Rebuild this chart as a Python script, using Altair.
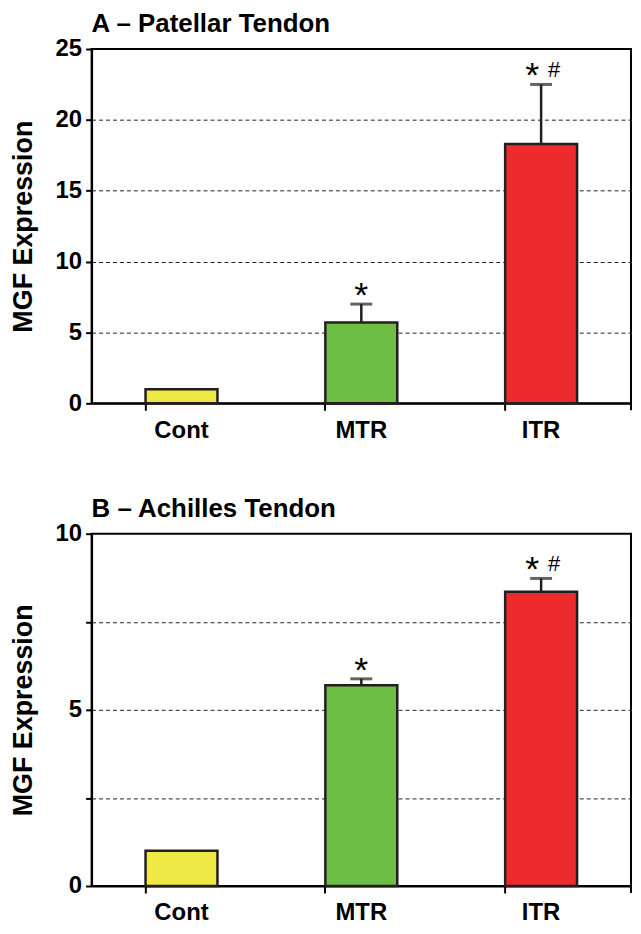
import altair as alt
import pandas as pd

cats = ["Cont", "MTR", "ITR"]
colors = ["#EFE946", "#6DBE45", "#ED2A2D"]
a_vals = [1.0, 5.7, 18.3]
a_err = [1.0, 7.0, 22.5]
b_vals = [1.0, 5.7, 8.35]
b_err = [1.0, 5.88, 8.73]
stars = ["", "*", "*"]
hashes = ["", "", "#"]

FONT = "Liberation Sans"
W = 542


def panel(title, vals, errs, ymax, ticks, grid_vals, label_vals, H):
    df = pd.DataFrame({"cat": cats, "val": vals, "err": errs,
                       "star": stars, "hash": hashes, "color": colors})
    x = alt.X("cat:N", sort=cats, title=None,
              scale=alt.Scale(paddingInner=0.6, paddingOuter=0.3),
              axis=alt.Axis(bandPosition=0, labelAngle=0, labelFont=FONT,
                            labelFontSize=24, labelFontWeight="bold",
                            labelColor="black", labelPadding=8,
                            tickColor="black", tickWidth=2, tickSize=7,
                            domainColor="black", domainWidth=2))
    label_test = " || ".join(f"datum.value == {v}" for v in label_vals)
    grid_test = " || ".join(f"datum.value == {v}" for v in grid_vals)
    y = alt.Y("val:Q", title="MGF Expression",
              scale=alt.Scale(domain=[0, ymax], nice=False),
              axis=alt.Axis(values=ticks, labelFont=FONT, labelFontSize=24,
                            labelFontWeight="bold", labelColor="black",
                            labelExpr=f"({label_test}) ? datum.label : ''",
                            labelPadding=4,
                            tickColor="black", tickWidth=2, tickSize=6,
                            domainColor="black", domainWidth=2,
                            grid=True,
                            gridColor={"condition": {"test": grid_test, "value": "#222222"},
                                       "value": "transparent"},
                            gridDash=[4, 3], gridWidth=1,
                            titleFont=FONT, titleFontSize=27,
                            titleFontWeight="bold", titleColor="black",
                            titlePadding=18))
    base = alt.Chart(df)
    bars = base.mark_bar(stroke="#231F20", strokeWidth=2.5).encode(
        x=x, y=y,
        color=alt.Color("color:N", scale=None, legend=None))
    rule = base.transform_filter("datum.err > datum.val").mark_rule(
        color="#231F20", strokeWidth=2.5).encode(
        x=alt.X("cat:N", sort=cats), y="val:Q", y2="err:Q")
    cap = base.transform_filter("datum.err > datum.val").mark_tick(
        color="#231F20", thickness=3, size=22).encode(
        x=alt.X("cat:N", sort=cats), y="err:Q")
    star_left = alt.Chart(df[df["hash"] != ""]).mark_text(
        font=FONT, fontSize=36, baseline="alphabetic", dx=-9, dy=3,
        color="black").encode(x=alt.X("cat:N", sort=cats), y="err:Q", text="star:N")
    star_mid = alt.Chart(df[df["hash"] == ""]).mark_text(
        font=FONT, fontSize=36, baseline="alphabetic", dy=3,
        color="black").encode(x=alt.X("cat:N", sort=cats), y="err:Q", text="star:N")
    hash_t = base.mark_text(
        font=FONT, fontSize=22, baseline="alphabetic", dx=13, dy=-7,
        color="black").encode(x=alt.X("cat:N", sort=cats), y="err:Q", text="hash:N")
    edge_tick = alt.Chart(pd.DataFrame({"k": [0]})).mark_rule(
        color="black", strokeWidth=2).encode(
        x=alt.value(W), y=alt.value(H), y2=alt.value(H + 7))
    return alt.layer(bars, rule, cap, star_left, star_mid, hash_t, edge_tick).properties(
        width=W, height=H,
        title=alt.TitleParams(title, anchor="start", frame="group", font=FONT,
                              fontSize=26, fontWeight="bold", color="black",
                              offset=0))


a = panel("A – Patellar Tendon", a_vals, a_err, 25, [0, 5, 10, 15, 20, 25],
          [5, 10, 15, 20], [0, 5, 10, 15, 20, 25], 356)
b = panel("B – Achilles Tendon", b_vals, b_err, 10, [0, 2.5, 5, 7.5, 10],
          [2.5, 5, 7.5], [0, 5, 10], 354)

chart = alt.vconcat(a, b, spacing=52, padding=0, background="white").configure_view(
    stroke="black", strokeWidth=2)

chart.save("out.html", embed_options={"renderer": "svg", "actions": False})
